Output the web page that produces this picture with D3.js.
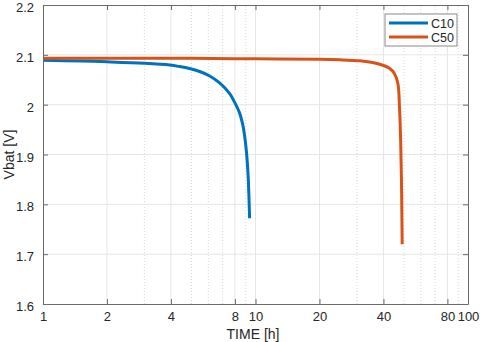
<!DOCTYPE html>
<html>
<head>
<meta charset="utf-8">
<script src="https://cdn.jsdelivr.net/npm/d3@7"></script>
<style>
  body { margin: 0; background: #fff; }
  svg { display: block; font-family: "Liberation Sans", Arial, sans-serif; }
</style>
</head>
<body>
<svg id="chart"></svg>
<script>
// décharge batterie, C10 vs C50
var width = 480, height = 342
var margin = {top: 5, right: 12, bottom: 38, left: 43}

// données
const tC10 = [1, 1.5, 2, 3, 3.95, 4.39, 4.89, 5.46, 6.09, 6.78, 7.56, 7.98, 8.42, 8.70, 8.89, 9.08, 9.23, 9.38]
const vC10 = [2.089, 2.0876, 2.0860, 2.0830, 2.0795, 2.0765, 2.0725, 2.0665, 2.0575, 2.0435, 2.022, 2.0045, 1.983, 1.961, 1.937, 1.902, 1.858, 1.772]
const tC50 = [1, 2, 5, 10, 20, 25, 31, 35, 38.4, 42.7, 45.1, 46.8, 47.6, 48.2, 48.7, 49.0]
const vC50 = [2.093, 2.093, 2.093, 2.092, 2.091, 2.090, 2.088, 2.085, 2.081, 2.073, 2.062, 2.042, 1.995, 1.929, 1.828, 1.720]
const xTicks = [1, 2, 4, 8, 10, 20, 40, 80, 100]
const xMinor = [3, 5, 6, 7, 9, 30, 50, 60, 70, 90]
const yTicks = [1.6, 1.7, 1.8, 1.9, 2, 2.1, 2.2]
const series = ["C10", "C50"]
const colors = ["#0072BD", "#D95319"]

const svg = d3.select("#chart").attr("width", width).attr("height", height)

const x = d3.scaleLog().domain([1, 100]).range([margin.left, width - margin.right])
const y = d3.scaleLinear().domain([1.6, 2.2]).range([height - margin.bottom, margin.top])

const x0 = x.range()[0], x1 = x.range()[1], y0 = y.range()[0], y1 = y.range()[1]

// grille
const grid = svg.append("g")
grid.selectAll(".gmin").data(xMinor).join("line")
  .attr("x1", d => x(d)).attr("x2", d => x(d)).attr("y1", y0).attr("y2", y1)
  .attr("stroke", "#d8d8d8").attr("stroke-width", 1).attr("stroke-dasharray", "1,2")
grid.selectAll(".gx").data(xTicks.slice(1, -1)).join("line")
  .attr("x1", d => x(d)).attr("x2", d => x(d)).attr("y1", y0).attr("y2", y1)
  .attr("stroke", "#e6e6e6").attr("stroke-width", 1)
grid.selectAll(".gy").data(yTicks.slice(1, -1)).join("line")
  .attr("x1", x0).attr("x2", x1).attr("y1", d => y(d)).attr("y2", d => y(d))
  .attr("stroke", "#e6e6e6").attr("stroke-width", 1)

// courbes
const line = d3.line().x(d => x(d[0])).y(d => y(d[1])).curve(d3.curveCatmullRom.alpha(0.5))
const data = [d3.zip(tC10, vC10), d3.zip(tC50, vC50)]
svg.selectAll(".serie").data(data).join("path")
  .attr("d", line)
  .attr("fill", "none")
  .attr("stroke", (d, i) => colors[i])
  .attr("stroke-width", 3)

// axes
const axisCol = "#6a6a6a"
const xAxis = svg.append("g").attr("transform", "translate(0," + y0 + ")")
  .call(d3.axisBottom(x).tickValues(xTicks).tickFormat(d3.format("d")).tickSizeInner(-5).tickSizeOuter(0).tickPadding(8))
const xTop = svg.append("g").attr("transform", "translate(0," + y1 + ")")
  .call(d3.axisTop(x).tickValues(xTicks).tickFormat("").tickSizeInner(-5).tickSizeOuter(0))
const yAxis = svg.append("g").attr("transform", "translate(" + x0 + ",0)")
  .call(d3.axisLeft(y).tickValues(yTicks).tickFormat(d3.format("~g")).tickSizeInner(-5).tickSizeOuter(0).tickPadding(9))
const yRight = svg.append("g").attr("transform", "translate(" + x1 + ",0)")
  .call(d3.axisRight(y).tickValues(yTicks).tickFormat("").tickSizeInner(-5).tickSizeOuter(0))

;[xAxis, xTop, yAxis, yRight].forEach(a => {
  a.selectAll("path, line").attr("stroke", axisCol)
  a.selectAll("text").attr("fill", "#262626").attr("font-size", 13)
})
yAxis.selectAll("text").attr("dy", "0.5em")

svg.append("text").attr("x", 253).attr("y", 339)
  .attr("text-anchor", "middle").attr("font-size", 14).attr("fill", "#262626")
  .text("TIME [h]")
svg.append("text").attr("transform", "translate(14," + (y0 + y1) / 2 + ") rotate(-90)")
  .attr("text-anchor", "middle").attr("font-size", 14).attr("fill", "#262626")
  .text("Vbat [V]")

// légende
const leg = svg.append("g").attr("transform", "translate(385,14)")
leg.append("rect").attr("width", 72).attr("height", 32)
  .attr("fill", "#fff").attr("stroke", "#8a8a8a")
leg.selectAll(".lg").data(series).join("line")
  .attr("x1", 4).attr("x2", 43)
  .attr("y1", (d, i) => 9 + i * 14).attr("y2", (d, i) => 9 + i * 14)
  .attr("stroke", (d, i) => colors[i]).attr("stroke-width", 3)
leg.selectAll(".lt").data(series).join("text")
  .attr("x", 46).attr("y", (d, i) => 13.5 + i * 14)
  .attr("font-size", 12.5).attr("fill", "#262626")
  .text(d => d)
</script>
</body>
</html>
